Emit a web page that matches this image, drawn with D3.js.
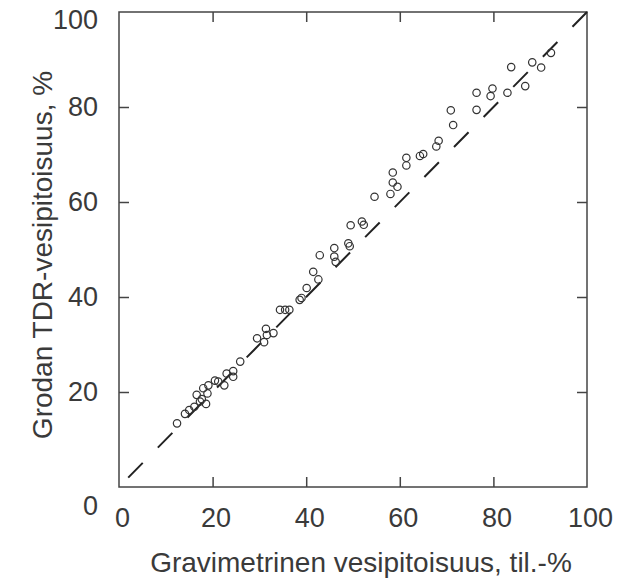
<!DOCTYPE html>
<html><head><meta charset="utf-8">
<script src="https://cdn.jsdelivr.net/npm/d3@7/dist/d3.min.js"></script>
<style>body{margin:0;background:#fff;} svg{display:block;}</style>
</head><body>
<svg id="chart" width="619" height="581"></svg>
<script>
const gravimetric = [12.4,14.1,15.0,16.1,16.6,17.3,17.7,18.6,18.0,18.9,19.1,20.5,21.2,22.5,23.0,24.4,24.4,25.9,29.5,31.4,31.6,31.0,33.0,34.4,35.5,36.4,38.6,39.0,40.1,41.5,42.6,42.9,46.0,46.0,46.3,49.0,49.3,49.5,51.9,52.3,54.6,58.0,58.5,59.5,58.5,61.4,61.4,64.3,65.0,67.8,68.3,70.9,71.4,76.4,76.4,79.4,79.8,83.0,83.8,86.8,88.3,90.2,92.3];
const tdr = [13.4,15.4,16.2,16.9,19.4,18.0,18.5,17.5,20.8,19.7,21.4,22.4,22.2,21.4,23.9,24.4,23.2,26.4,31.3,33.3,32.0,30.5,32.4,37.3,37.3,37.3,39.4,39.8,41.9,45.3,43.7,48.8,50.3,48.5,47.4,51.3,50.7,55.1,55.9,55.2,61.1,61.7,64.1,63.2,66.2,67.7,69.3,69.7,70.1,71.7,72.9,79.3,76.2,83.0,79.4,82.3,83.9,83.0,88.4,84.4,89.4,88.3,91.4];
const tickValues = [0,20,40,60,80,100];
const refLine = [[100,100],[1.4,1.4]];
const xTitle = "Gravimetrinen vesipitoisuus, til.-%";
const yTitle = "Grodan TDR-vesipitoisuus, %";

const svg = d3.select("#chart");
const x = d3.scaleLinear().domain([0,100]).range([119,587]);
const y = d3.scaleLinear().domain([0,100]).range([487,12]);
const ink = "#3a3a3a";
const font = "'Liberation Sans', Arial, Helvetica, sans-serif";

// frame
svg.append("rect").attr("x",x(0)).attr("y",y(100)).attr("width",x(100)-x(0)).attr("height",y(0)-y(100))
  .attr("fill","none").attr("stroke","#444").attr("stroke-width",1.5);

// axes
const xb = svg.append("g").attr("transform",`translate(0,${y(0)})`)
  .call(d3.axisBottom(x).tickValues(tickValues).tickSizeInner(-10).tickSizeOuter(0).tickPadding(21));
const xt = svg.append("g").attr("transform",`translate(0,${y(100)})`)
  .call(d3.axisTop(x).tickValues(tickValues).tickSizeInner(-10).tickSizeOuter(0).tickFormat(""));
const yl = svg.append("g").attr("transform",`translate(${x(0)},0)`)
  .call(d3.axisLeft(y).tickValues(tickValues).tickSizeInner(-10).tickSizeOuter(0).tickPadding(21));
const yr = svg.append("g").attr("transform",`translate(${x(100)},0)`)
  .call(d3.axisRight(y).tickValues(tickValues).tickSizeInner(-10).tickSizeOuter(0).tickFormat(""));
[xb,xt,yl,yr].forEach(g=>{
  g.select(".domain").remove();
  g.selectAll(".tick line").attr("stroke","#444").attr("stroke-width",1.5)
    .filter(d=>d===0||d===100).remove();
  g.selectAll("text").attr("font-family",font).attr("font-size",27).attr("fill",ink);
});
xb.selectAll(".tick text").attr("dx",3);
yl.selectAll(".tick text").attr("dy",d=> d===0 ? "1.02em" : d===100 ? "0.62em" : "0.32em");

// reference line
svg.append("path").attr("d",d3.line().x(d=>x(d[0])).y(d=>y(d[1]))(refLine))
  .attr("fill","none").attr("stroke","#222").attr("stroke-width",2).attr("stroke-dasharray","20.7,21.5");

// points
svg.append("g").selectAll("circle").data(gravimetric.map((g,i)=>[g,tdr[i]])).join("circle")
  .attr("cx",d=>x(d[0])).attr("cy",d=>y(d[1])).attr("r",3.7)
  .attr("fill","none").attr("stroke","#333").attr("stroke-width",1.2);

// titles
svg.append("text").attr("x",361).attr("y",572).attr("text-anchor","middle")
  .attr("font-family",font).attr("font-size",28).attr("fill",ink).text(xTitle);
svg.append("text").attr("transform","translate(52,255) rotate(-90)").attr("text-anchor","middle")
  .attr("font-family",font).attr("font-size",28).attr("fill",ink).text(yTitle);
</script>
</body></html>
